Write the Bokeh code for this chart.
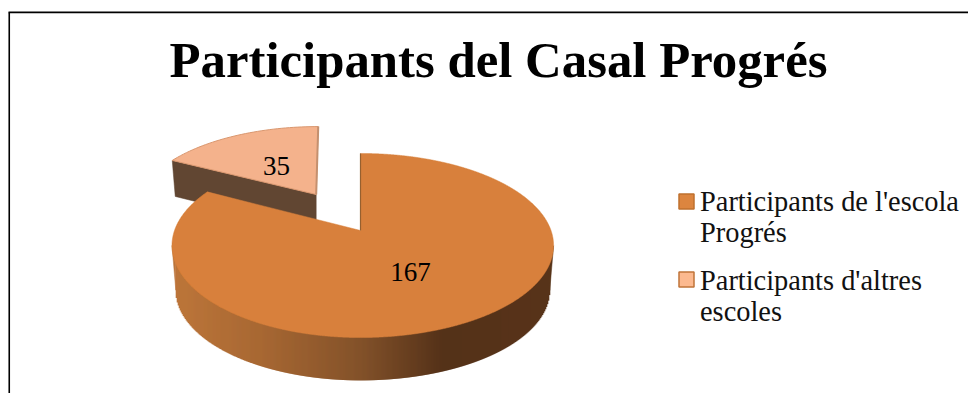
import math
import numpy as np
from bokeh.plotting import figure
from bokeh.models import Range1d
from bokeh.embed import file_html
from bokeh.resources import INLINE

title = "Participants del Casal Progrés"
categories = ["Participants de l'escola Progrés", "Participants d'altres escoles"]
legend_lines = [["Participants de l'escola", "Progrés"], ["Participants d'altres", "escoles"]]
values = [167, 35]

W, H = 968, 393
p = figure(width=W, height=H, x_range=Range1d(0, W), y_range=Range1d(H, 0),
           output_backend="svg", toolbar_location=None, min_border=0,
           x_axis_location=None, y_axis_location=None)
p.grid.visible = False
p.outline_line_color = None
p.background_fill_color = "#ffffff"

FONT = "Liberation Serif"
K = 0.163


def proj(th, ax, ay, al, ar, b, shear=0.0):
    u, v = math.sin(th), math.cos(th)
    d = 1 + K * v
    a = ar if u > 0 else al
    y = -b * v / d
    return ax + a * u / d - shear * y, ay + y


def mix(c1, c2, t):
    return "#%02x%02x%02x" % tuple(round(a + (b - a) * t) for a, b in zip(c1, c2))


def side_color(x):
    s = [(172, (0xbd, 0x76, 0x3a)), (260, (0xa8, 0x68, 0x33)), (360, (0x83, 0x52, 0x2a)),
         (442, (0x55, 0x32, 0x19)), (560, (0x58, 0x34, 0x1a))]
    for (x0, c0), (x1, c1) in zip(s, s[1:]):
        if x <= x1:
            return mix(c0, c1, max(0, (x - x0) / (x1 - x0)))
    return mix(s[-1][1], s[-1][1], 0)


total = sum(values)
sweep_small = 2 * math.pi * values[1] / total

# border
p.line([8.75, 8.75], [H, 12], line_color="#000000", line_width=1.6)
p.line([8, W], [11.9, 11.9], line_color="#000000", line_width=1.6)

# small slice (exploded)
sm = dict(ax=315.7, ay=194, al=176, ar=176, b=79, shear=0.03)
N = 40
ths = [-sweep_small * i / N for i in range(N + 1)]
rim = [proj(t, **sm) for t in ths]
lx, ly = proj(-sweep_small, **sm)
p.patch([sm["ax"], lx, lx + 3, sm["ax"]], [sm["ay"], ly, ly + 36, sm["ay"] + 37],
        fill_color="#614632", line_color="#614632", line_width=0.5)
p.patch([sm["ax"]] + [q[0] for q in rim], [sm["ay"]] + [q[1] for q in rim],
        fill_color="#f4b28c", line_color="#d9976f", line_width=1)
tx, ty = rim[0]
p.line([sm["ax"], tx], [sm["ay"], ty], line_color="#c4906f", line_width=2)

# main slice
mn = dict(ax=360, ay=230, al=186, ar=190.5, b=89.6)
depth, shrink = 45, 0.98
M = 1600
sweep_main = 2 * math.pi * values[0] / total
angs = [sweep_main * i / M for i in range(M + 1)]
top = [proj(t, **mn) for t in angs]
bot = [(mn["ax"] + 3 + (x - mn["ax"] - 3) * shrink, mn["ay"] + (y - mn["ay"]) * shrink + depth) for x, y in top]

# wall: one vertical strip per pixel column, so the shading follows x
bot_edge_y = min(bot)[1]
top_edge_y = min(top)[1]
lower_bot = sorted((x, y) for x, y in bot if y >= bot_edge_y)
lower_top = sorted((x, y) for x, y in top if y >= top_edge_y)
top_xs = [q[0] for q in lower_top]
top_ys = [q[1] for q in lower_top]
columns = np.arange(math.ceil(lower_bot[0][0]), lower_bot[-1][0], 1.0)
y_end = np.interp(columns, [q[0] for q in lower_bot], [q[1] for q in lower_bot])
y_start = np.interp(columns, top_xs, top_ys) - 3
p.segment(columns, y_start, columns, y_end, line_color=[side_color(x) for x in columns],
          line_width=1.6, line_cap="butt")
# the two slanted ends of the wall, outside the lower rim
for tq, bq in ((lower_top[0], lower_bot[0]), (lower_top[-1], lower_bot[-1])):
    yt = float(np.interp(bq[0], top_xs, top_ys))
    c = side_color(bq[0])
    p.patch([tq[0], bq[0], bq[0]], [tq[1], bq[1], yt], fill_color=c, line_color=c, line_width=0.5)
p.patch([mn["ax"]] + [q[0] for q in top], [mn["ay"]] + [q[1] for q in top],
        fill_color="#d8803c", line_color="#d8803c", line_width=0.5)
ex, ey = top[0]
p.line([mn["ax"], ex], [mn["ay"], ey], line_color="#96602f", line_width=1.2)

# data labels
p.text([276], [165.5], text=[str(values[1])], text_font=dict(value=FONT), text_font_size="27px",
       text_align="center", text_baseline="middle", text_color="#000000")
p.text([410], [271.5], text=[str(values[0])], text_font=dict(value=FONT), text_font_size="27px",
       text_align="center", text_baseline="middle", text_color="#000000")

# title
p.text([498], [59], text=[title], text_font=dict(value=FONT), text_font_size="50.8px",
       text_font_style="bold", text_align="center", text_baseline="alphabetic", text_color="#000000")

# legend
fills = ["#dc853f", "#fcb98f"]
borders = ["#bf702e", "#c0743a"]
sq_y = [201, 279]
base_y = [[201, 232], [280, 311]]
p.scatter([686] * 2, sq_y, marker="square", size=15, fill_color=fills, line_color=borders, line_width=1.5)
for lines, ys_ in zip(legend_lines, base_y):
    p.text([699.5] * len(lines), ys_, text=lines, text_font=dict(value=FONT), text_font_size="28.4px",
           text_align="left", text_baseline="alphabetic", text_color="#111111")

open("out.html", "w").write(file_html(p, INLINE))
